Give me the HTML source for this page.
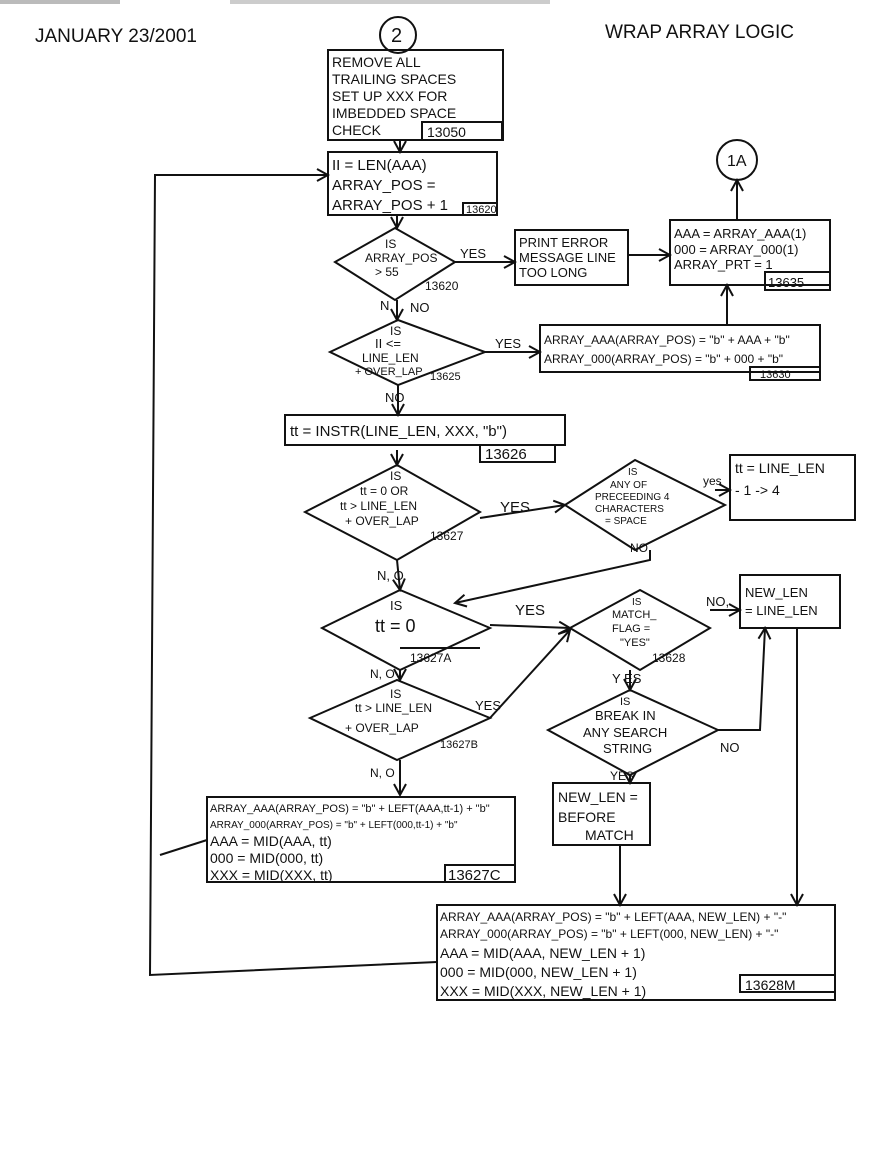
<!DOCTYPE html>
<html><head><meta charset="utf-8"><style>
html,body{margin:0;padding:0;background:#fff;}
svg{display:block;}
text{font-family:"Liberation Sans",sans-serif;fill:#111;}
</style></head><body>
<svg width="873" height="1160" viewBox="0 0 873 1160" xmlns="http://www.w3.org/2000/svg">
<defs><marker id="a" markerUnits="userSpaceOnUse" markerWidth="14" markerHeight="14" refX="12" refY="7" orient="auto"><path d="M1,1 L12,7 L1,13" fill="none" stroke="#111" stroke-width="2"/></marker></defs>
<rect x="0" y="0" width="120" height="4" fill="#bbb"/><rect x="230" y="0" width="320" height="4" fill="#ccc"/>
<g fill="none" stroke="#111" stroke-width="2">
<circle cx="398" cy="35" r="18"/>
<rect x="328" y="50" width="175" height="90"/>
<rect x="422" y="122" width="80" height="18"/>
<line x1="400" y1="140" x2="400" y2="152" marker-end="url(#a)"/>
<rect x="328" y="152" width="169" height="63"/>
<rect x="463" y="203" width="34" height="12"/>
<line x1="397" y1="215" x2="397" y2="228" marker-end="url(#a)"/>
<polygon points="335,262 395,228 455,262 395,300"/>
<line x1="455" y1="262" x2="515" y2="262" marker-end="url(#a)"/>
<rect x="515" y="230" width="113" height="55"/>
<line x1="628" y1="255" x2="670" y2="255" marker-end="url(#a)"/>
<rect x="670" y="220" width="160" height="65"/>
<rect x="765" y="272" width="65" height="18"/>
<line x1="737" y1="220" x2="737" y2="180" marker-end="url(#a)"/>
<circle cx="737" cy="160" r="20"/>
<line x1="397" y1="300" x2="397" y2="320" marker-end="url(#a)"/>
<polygon points="330,352 398,320 485,352 398,385"/>
<line x1="485" y1="352" x2="540" y2="352" marker-end="url(#a)"/>
<rect x="540" y="325" width="280" height="47"/>
<rect x="750" y="367" width="70" height="13"/>
<line x1="727" y1="325" x2="727" y2="285" marker-end="url(#a)"/>
<line x1="398" y1="385" x2="398" y2="415" marker-end="url(#a)"/>
<rect x="285" y="415" width="280" height="30"/>
<rect x="480" y="445" width="75" height="17"/>
<line x1="397" y1="450" x2="397" y2="465" marker-end="url(#a)"/>
<polygon points="305,512 397,465 480,512 397,560"/>
<line x1="480" y1="518" x2="565" y2="505" marker-end="url(#a)"/>
<polygon points="565,505 635,460 725,505 635,550"/>
<line x1="715" y1="490" x2="730" y2="490" marker-end="url(#a)"/>
<rect x="730" y="455" width="125" height="65"/>
<polyline points="650,550 650,560 455,603" marker-end="url(#a)"/>
<line x1="397" y1="560" x2="400" y2="590" marker-end="url(#a)"/>
<polygon points="322,628 400,590 490,628 400,670"/>
<line x1="400" y1="648" x2="480" y2="648"/>
<line x1="490" y1="625" x2="570" y2="628" marker-end="url(#a)"/>
<polygon points="570,628 640,590 710,628 640,670"/>
<line x1="710" y1="610" x2="740" y2="610" marker-end="url(#a)"/>
<rect x="740" y="575" width="100" height="53"/>
<line x1="400" y1="670" x2="400" y2="680" marker-end="url(#a)"/>
<polygon points="310,718 397,680 490,718 397,760"/>
<line x1="490" y1="718" x2="570" y2="630" marker-end="url(#a)"/>
<line x1="630" y1="670" x2="630" y2="690" marker-end="url(#a)"/>
<polygon points="548,730 630,690 718,730 630,775"/>
<polyline points="718,730 760,730 765,628" marker-end="url(#a)"/>
<line x1="630" y1="775" x2="630" y2="783" marker-end="url(#a)"/>
<rect x="553" y="783" width="97" height="62"/>
<line x1="400" y1="760" x2="400" y2="795" marker-end="url(#a)"/>
<rect x="207" y="797" width="308" height="85"/>
<rect x="445" y="865" width="70" height="17"/>
<line x1="620" y1="845" x2="620" y2="905" marker-end="url(#a)"/>
<line x1="797" y1="628" x2="797" y2="905" marker-end="url(#a)"/>
<rect x="437" y="905" width="398" height="95"/>
<rect x="740" y="975" width="95" height="17"/>
<polyline points="207,840 160,855"/>
<polyline points="437,962 150,975 155,175 328,175" marker-end="url(#a)"/>
</g>
<g font-size="15">
<text x="35" y="42" font-size="19">JANUARY 23/2001</text>
<text x="605" y="38" font-size="19">WRAP ARRAY LOGIC</text>
<text x="391" y="42" font-size="20">2</text>
<text x="332" y="67" font-size="14">REMOVE ALL</text>
<text x="332" y="84" font-size="14">TRAILING SPACES</text>
<text x="332" y="101" font-size="14">SET UP XXX FOR</text>
<text x="332" y="118" font-size="14">IMBEDDED SPACE</text>
<text x="332" y="135" font-size="14">CHECK</text>
<text x="427" y="137" font-size="14">13050</text>
<text x="332" y="170">II = LEN(AAA)</text>
<text x="332" y="190">ARRAY_POS =</text>
<text x="332" y="210">ARRAY_POS + 1</text>
<text x="466" y="213" font-size="11">13620</text>
<text x="385" y="248" font-size="12">IS</text>
<text x="365" y="262" font-size="12">ARRAY_POS</text>
<text x="375" y="276" font-size="12">&gt; 55</text>
<text x="425" y="290" font-size="12">13620</text>
<text x="460" y="258" font-size="13">YES</text>
<text x="519" y="247" font-size="13">PRINT ERROR</text>
<text x="519" y="262" font-size="13">MESSAGE LINE</text>
<text x="519" y="277" font-size="13">TOO LONG</text>
<text x="674" y="238" font-size="13">AAA = ARRAY_AAA(1)</text>
<text x="674" y="254" font-size="13">000 = ARRAY_000(1)</text>
<text x="674" y="269" font-size="13">ARRAY_PRT = 1</text>
<text x="768" y="287" font-size="13">13635</text>
<text x="727" y="166" font-size="16">1A</text>
<text x="380" y="310" font-size="13">N</text>
<text x="410" y="312" font-size="13">NO</text>
<text x="390" y="335" font-size="12">IS</text>
<text x="375" y="348" font-size="13">II &lt;=</text>
<text x="362" y="362" font-size="12">LINE_LEN</text>
<text x="355" y="375" font-size="11">+ OVER_LAP</text>
<text x="430" y="380" font-size="11">13625</text>
<text x="495" y="348" font-size="13">YES</text>
<text x="544" y="344" font-size="12">ARRAY_AAA(ARRAY_POS) = "b" + AAA + "b"</text>
<text x="544" y="363" font-size="12">ARRAY_000(ARRAY_POS) = "b" + 000 + "b"</text>
<text x="760" y="378" font-size="11">13630</text>
<text x="385" y="402" font-size="13">NO</text>
<text x="290" y="436">tt = INSTR(LINE_LEN, XXX, "b")</text>
<text x="485" y="459">13626</text>
<text x="390" y="480" font-size="12">IS</text>
<text x="360" y="495" font-size="12">tt = 0 OR</text>
<text x="340" y="510" font-size="12">tt &gt; LINE_LEN</text>
<text x="345" y="525" font-size="12">+ OVER_LAP</text>
<text x="430" y="540" font-size="12">13627</text>
<text x="500" y="512">YES</text>
<text x="628" y="475" font-size="10">IS</text>
<text x="610" y="488" font-size="10">ANY OF</text>
<text x="595" y="500" font-size="10">PRECEEDING 4</text>
<text x="595" y="512" font-size="10">CHARACTERS</text>
<text x="605" y="524" font-size="10">= SPACE</text>
<text x="703" y="485" font-size="12">yes</text>
<text x="735" y="473" font-size="14">tt = LINE_LEN</text>
<text x="735" y="495" font-size="14">- 1 -&gt; 4</text>
<text x="630" y="552" font-size="12">NO</text>
<text x="377" y="580" font-size="13">N, O</text>
<text x="390" y="610" font-size="13">IS</text>
<text x="375" y="632" font-size="18">tt = 0</text>
<text x="410" y="662" font-size="12">13627A</text>
<text x="515" y="615">YES</text>
<text x="632" y="605" font-size="10">IS</text>
<text x="612" y="618" font-size="11">MATCH_</text>
<text x="612" y="632" font-size="11">FLAG =</text>
<text x="620" y="646" font-size="11">"YES"</text>
<text x="652" y="662" font-size="12">13628</text>
<text x="706" y="606" font-size="13">NO,</text>
<text x="745" y="597" font-size="13">NEW_LEN</text>
<text x="745" y="615" font-size="13">= LINE_LEN</text>
<text x="370" y="678" font-size="12">N, O</text>
<text x="390" y="698" font-size="12">IS</text>
<text x="355" y="712" font-size="12">tt &gt; LINE_LEN</text>
<text x="345" y="732" font-size="12">+ OVER_LAP</text>
<text x="440" y="748" font-size="11">13627B</text>
<text x="475" y="710" font-size="13">YES</text>
<text x="612" y="683" font-size="13">Y ES</text>
<text x="620" y="705" font-size="11">IS</text>
<text x="595" y="720" font-size="13">BREAK IN</text>
<text x="583" y="737" font-size="13">ANY SEARCH</text>
<text x="603" y="753" font-size="13">STRING</text>
<text x="720" y="752" font-size="13">NO</text>
<text x="610" y="780" font-size="12">YES</text>
<text x="558" y="802" font-size="14">NEW_LEN =</text>
<text x="558" y="822" font-size="14">BEFORE</text>
<text x="585" y="840" font-size="14">MATCH</text>
<text x="370" y="777" font-size="12">N, O</text>
<text x="210" y="812" font-size="11">ARRAY_AAA(ARRAY_POS) = "b" + LEFT(AAA,tt-1) + "b"</text>
<text x="210" y="828" font-size="10">ARRAY_000(ARRAY_POS) = "b" + LEFT(000,tt-1) + "b"</text>
<text x="210" y="846" font-size="14">AAA = MID(AAA, tt)</text>
<text x="210" y="863" font-size="14">000 = MID(000, tt)</text>
<text x="210" y="880" font-size="14">XXX = MID(XXX, tt)</text>
<text x="448" y="880" font-size="15">13627C</text>
<text x="440" y="921" font-size="12">ARRAY_AAA(ARRAY_POS) = "b" + LEFT(AAA, NEW_LEN) + "-"</text>
<text x="440" y="938" font-size="12">ARRAY_000(ARRAY_POS) = "b" + LEFT(000, NEW_LEN) + "-"</text>
<text x="440" y="958" font-size="14">AAA = MID(AAA, NEW_LEN + 1)</text>
<text x="440" y="977" font-size="14">000 = MID(000, NEW_LEN + 1)</text>
<text x="440" y="996" font-size="14">XXX = MID(XXX, NEW_LEN + 1)</text>
<text x="745" y="990" font-size="14">13628M</text>
</g>
</svg>
</body></html>
